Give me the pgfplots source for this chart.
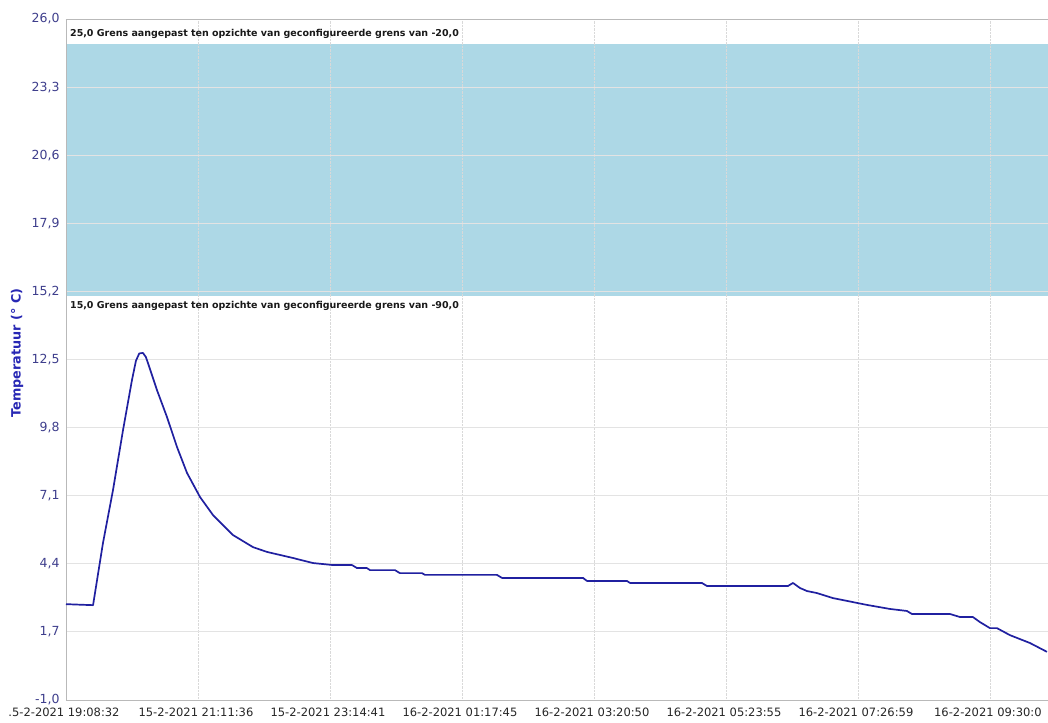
\documentclass[border=0pt]{standalone}
\usepackage{pgfplots}
\pgfplotsset{compat=1.18}
\usepackage{fontspec}
\setmainfont{DejaVu Sans}
\definecolor{bandblue}{RGB}{173,216,230}
\definecolor{curveblue}{RGB}{32,32,160}
\definecolor{ticknavy}{RGB}{62,62,140}
\definecolor{labelblue}{RGB}{40,40,180}
\begin{document}
\begin{tikzpicture}
\begin{axis}[
  at={(0,0)}, anchor=south west,
  scale only axis,
  width=982pt, height=681pt,
  xmin=0, xmax=7.44,
  ymin=-1, ymax=26,
  set layers,
  axis lines*=left,
  axis line style={-, draw=gray!55, line width=0.8pt},
  major tick length=0pt,
  xtick={0,1,2,3,4,5,6,7},
  xticklabels={{.5-2-2021 19:08:32},{15-2-2021 21:11:36},{15-2-2021 23:14:41},{16-2-2021 01:17:45},{16-2-2021 03:20:50},{16-2-2021 05:23:55},{16-2-2021 07:26:59},{16-2-2021 09:30:0}},
  ytick={-1,1.7,4.4,7.1,9.8,12.5,15.2,17.9,20.6,23.3,26},
  yticklabels={{-1,0},{1,7},{4,4},{7,1},{9,8},{12,5},{15,2},{17,9},{20,6},{23,3},{26,0}},
  xticklabel style={font=\fontsize{11.5}{13}\selectfont, color=black!85, yshift=-4pt, xshift=-2pt},
  yticklabel style={font=\fontsize{12.5}{14}\selectfont, color=ticknavy, xshift=-3pt},
  grid=major,
  x grid style={gray!30, densely dotted, line width=0.8pt},
  y grid style={gray!22, line width=0.8pt},
  ylabel={Temperatuur (° C)},
  ylabel style={at={(axis description cs:-0.0499,0.5095)}, anchor=center, font=\bfseries\fontsize{12.8}{14}\selectfont, color=labelblue},
]
\addplot[fill=bandblue, draw=none, on layer=axis background] coordinates {(0,15) (7.44,15) (7.44,25) (0,25)} -- cycle;
\addplot[curveblue, line width=1.7pt, line join=round] coordinates {
(0,2.80) (0.10,2.78) (0.205,2.76) (0.280,5.22) (0.356,7.32) (0.432,9.70)
(0.500,11.69) (0.530,12.45) (0.555,12.74) (0.583,12.76) (0.605,12.60) (0.621,12.36) (0.689,11.29)
(0.765,10.22) (0.841,9.03) (0.917,8.00) (1.015,7.05) (1.114,6.33)
(1.265,5.54) (1.417,5.06) (1.523,4.87) (1.720,4.63) (1.871,4.43)
(2.023,4.35) (2.167,4.35) (2.205,4.23) (2.280,4.23) (2.303,4.15)
(2.492,4.15) (2.530,4.03) (2.697,4.03) (2.720,3.96) (3.265,3.96)
(3.303,3.84) (3.917,3.84) (3.947,3.72) (4.250,3.72) (4.273,3.64)
(4.818,3.64) (4.856,3.52) (5.470,3.52) (5.508,3.64) (5.561,3.44)
(5.614,3.32) (5.689,3.24) (5.811,3.04) (6.068,2.77) (6.242,2.61)
(6.371,2.53) (6.409,2.41) (6.697,2.41) (6.773,2.29) (6.871,2.29)
(6.924,2.09) (7.000,1.85) (7.053,1.85) (7.152,1.57) (7.303,1.26) (7.432,0.91)
};
\node[anchor=south west, inner sep=0pt, font=\bfseries\fontsize{9.5}{11}\selectfont, text=black!90] at (axis cs:0.03,25.2) {25,0 Grens aangepast ten opzichte van geconfigureerde grens van -20,0};
\node[anchor=north west, inner sep=0pt, font=\bfseries\fontsize{9.5}{11}\selectfont, text=black!90] at (axis cs:0.03,14.8) {15,0 Grens aangepast ten opzichte van geconfigureerde grens van -90,0};
\draw[gray!55, line width=0.8pt] (rel axis cs:0,1) -- (rel axis cs:1,1);
\end{axis}
\pgfresetboundingbox
\path[use as bounding box] (-66pt,-22pt) rectangle (982pt,700pt);
\end{tikzpicture}
\end{document}
